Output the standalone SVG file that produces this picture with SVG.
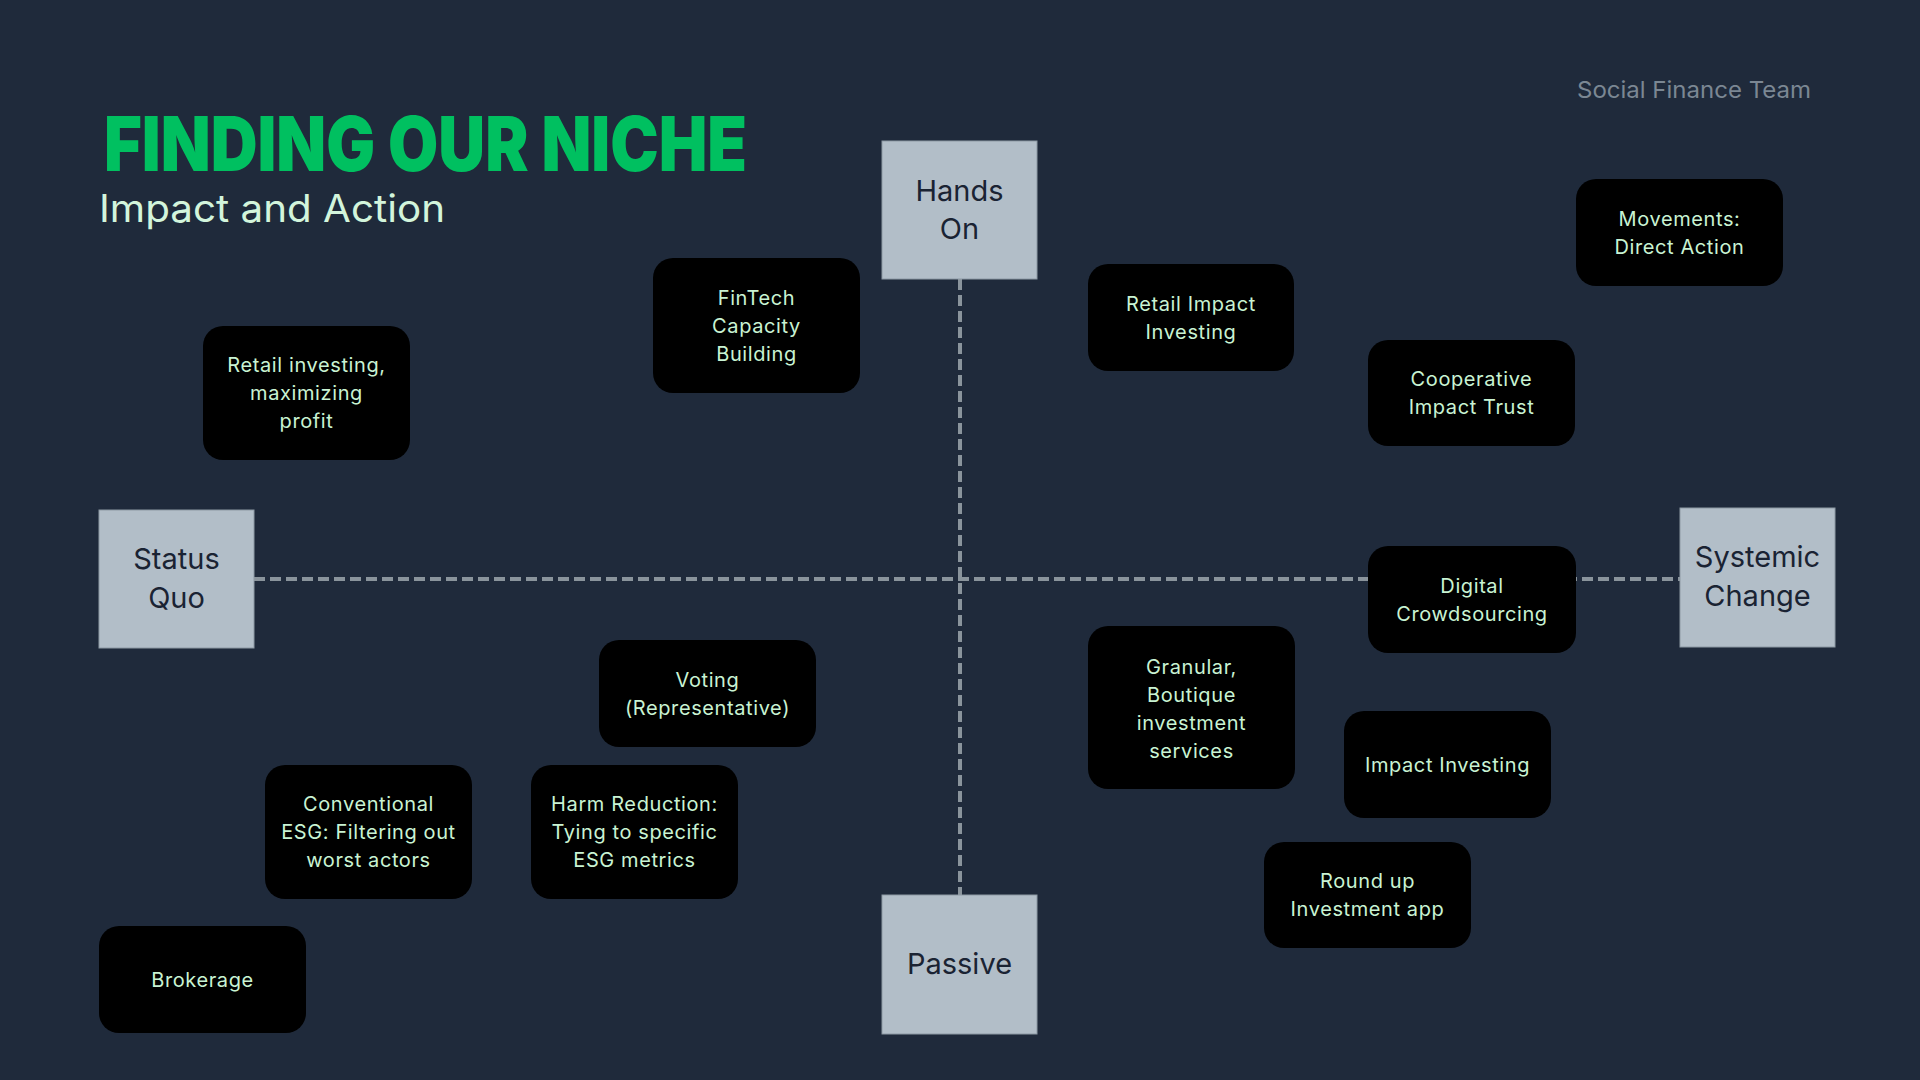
<svg xmlns="http://www.w3.org/2000/svg" width="1920" height="1080" viewBox="0 0 1920 1080">
<style>
.node rect{fill:#000000;}
.node text{font-family:Inter,"Noto Sans",sans-serif;font-size:20px;letter-spacing:0.6px;fill:#c9f3d3;text-anchor:middle;}
.axis rect{fill:#b2bec8;stroke:#8d99a4;stroke-width:1;}
.axis text{font-family:Inter,"Noto Sans",sans-serif;font-size:29px;fill:#1a2333;text-anchor:middle;}
.conn line{stroke:#8a949c;stroke-width:4;stroke-dasharray:11 5;fill:none;}
</style>
<rect x="0" y="0" width="1920" height="1080" fill="#1f2a3b"/>
<text x="104" y="171" font-family="Inter,'Noto Sans',sans-serif" font-weight="900" font-size="76" fill="#00c060" textLength="643" lengthAdjust="spacingAndGlyphs">FINDING OUR NICHE</text>
<text x="99" y="222" font-family="Inter,'Noto Sans',sans-serif" font-size="38" fill="#d3f5dc" textLength="346" lengthAdjust="spacingAndGlyphs">Impact and Action</text>
<text x="1577" y="98" font-family="Inter,'Noto Sans',sans-serif" font-size="23" fill="#7b8793" textLength="234" lengthAdjust="spacingAndGlyphs">Social Finance Team</text>
<g id="connectors" class="conn">
<line x1="254" y1="579" x2="1680" y2="579"/>
<line x1="960" y1="279" x2="960" y2="895"/>
</g>
<g id="hands-on" class="axis"><rect x="882" y="141" width="155" height="138"/><text x="959.5" y="201">Hands</text><text x="959.5" y="239">On</text></g>
<g id="status-quo" class="axis"><rect x="99" y="510" width="155" height="138"/><text x="176.5" y="569">Status</text><text x="176.5" y="608">Quo</text></g>
<g id="systemic-change" class="axis"><rect x="1680" y="508" width="155" height="139"/><text x="1757.5" y="567">Systemic</text><text x="1757.5" y="606">Change</text></g>
<g id="passive" class="axis"><rect x="882" y="895" width="155" height="139"/><text x="959.5" y="974">Passive</text></g>
<g id="fintech" class="node"><rect x="653" y="258" width="207" height="135" rx="20"/><text x="756.5" y="304.5">FinTech</text><text x="756.5" y="332.5">Capacity</text><text x="756.5" y="360.5">Building</text></g>
<g id="retail-profit" class="node"><rect x="203" y="326" width="207" height="134" rx="20"/><text x="306.5" y="372">Retail investing,</text><text x="306.5" y="400">maximizing</text><text x="306.5" y="428">profit</text></g>
<g id="retail-impact" class="node"><rect x="1088" y="264" width="206" height="107" rx="20"/><text x="1191" y="310.5">Retail Impact</text><text x="1191" y="338.5">Investing</text></g>
<g id="movements" class="node"><rect x="1576" y="179" width="207" height="107" rx="20"/><text x="1679.5" y="225.5">Movements:</text><text x="1679.5" y="253.5">Direct Action</text></g>
<g id="cooperative" class="node"><rect x="1368" y="340" width="207" height="106" rx="20"/><text x="1471.5" y="386">Cooperative</text><text x="1471.5" y="414">Impact Trust</text></g>
<g id="digital" class="node"><rect x="1368" y="546" width="208" height="107" rx="20"/><text x="1472" y="592.5">Digital</text><text x="1472" y="620.5">Crowdsourcing</text></g>
<g id="voting" class="node"><rect x="599" y="640" width="217" height="107" rx="20"/><text x="707.5" y="686.5">Voting</text><text x="707.5" y="714.5">(Representative)</text></g>
<g id="granular" class="node"><rect x="1088" y="626" width="207" height="163" rx="20"/><text x="1191.5" y="673.5">Granular,</text><text x="1191.5" y="701.5">Boutique</text><text x="1191.5" y="729.5">investment</text><text x="1191.5" y="757.5">services</text></g>
<g id="impact-investing" class="node"><rect x="1344" y="711" width="207" height="107" rx="20"/><text x="1447.5" y="771.5">Impact Investing</text></g>
<g id="conventional-esg" class="node"><rect x="265" y="765" width="207" height="134" rx="20"/><text x="368.5" y="811">Conventional</text><text x="368.5" y="839">ESG: Filtering out</text><text x="368.5" y="867">worst actors</text></g>
<g id="harm-reduction" class="node"><rect x="531" y="765" width="207" height="134" rx="20"/><text x="634.5" y="811">Harm Reduction:</text><text x="634.5" y="839">Tying to specific</text><text x="634.5" y="867">ESG metrics</text></g>
<g id="round-up" class="node"><rect x="1264" y="842" width="207" height="106" rx="20"/><text x="1367.5" y="888">Round up</text><text x="1367.5" y="916">Investment app</text></g>
<g id="brokerage" class="node"><rect x="99" y="926" width="207" height="107" rx="20"/><text x="202.5" y="986.5">Brokerage</text></g>
</svg>
